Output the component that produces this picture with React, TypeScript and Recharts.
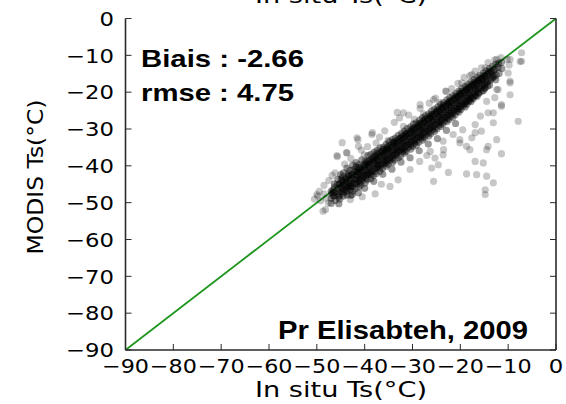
import React from 'react';
import { ScatterChart, Scatter, XAxis, YAxis, ZAxis, ReferenceLine } from 'recharts';

const tickValues = [-90, -80, -70, -60, -50, -40, -30, -20, -10, 0];
const tickLabels = ['−90', '−80', '−70', '−60', '−50', '−40', '−30', '−20', '−10', '0'];

const coreCold: [number, number][] = [
  [-47.0,-46.9],[-47.0,-48.8],[-47.0,-50.2],[-46.9,-47.5],
  [-46.3,-45.8],[-46.3,-47.2],[-46.2,-49.4],[-46.4,-48.1],[-46.3,-44.9],
  [-45.6,-43.7],[-45.6,-46.2],[-45.5,-48.5],[-45.7,-45.1],[-45.6,-47.6],[-45.4,-50.3],
  [-45.0,-42.4],[-45.1,-44.8],[-44.9,-47.1],[-45.0,-45.9],[-45.2,-49.0],[-44.9,-43.6],
  [-44.4,-41.9],[-44.5,-44.1],[-44.3,-46.5],[-44.4,-48.2],[-44.2,-45.3],[-44.6,-43.0],[-44.4,-47.4],
  [-43.7,-40.6],[-43.8,-43.5],[-43.6,-45.8],[-43.7,-47.9],[-43.9,-44.4],[-43.5,-42.2],[-43.7,-46.7],
  [-43.1,-41.2],[-43.2,-43.9],[-43.0,-46.3],[-43.1,-44.8],[-43.3,-42.7],[-42.9,-48.0],[-43.1,-45.5],
  [-42.5,-39.8],[-42.6,-42.4],[-42.4,-44.6],[-42.5,-46.9],[-42.7,-43.1],[-42.3,-41.0],[-42.5,-45.7],[-42.6,-47.8],
  [-41.8,-40.3],[-41.9,-42.6],[-41.7,-44.9],[-41.8,-43.6],[-42.0,-46.2],[-41.6,-41.5],[-41.8,-39.1],
  [-41.2,-39.7],[-41.3,-41.8],[-41.1,-43.9],[-41.2,-45.7],[-41.4,-42.4],[-41.0,-44.6],[-41.2,-40.5],[-41.3,-47.3],
  [-40.6,-38.4],[-40.7,-40.9],[-40.5,-43.3],[-40.6,-41.6],[-40.8,-45.2],[-40.4,-42.7],[-40.6,-44.1],
  [-39.9,-38.8],[-40.0,-40.2],[-39.8,-42.5],[-39.9,-44.6],[-40.1,-41.1],[-39.7,-43.4],[-39.9,-39.5],[-40.0,-46.1],
  [-39.3,-37.2],[-39.4,-39.7],[-39.2,-41.9],[-39.3,-40.4],[-39.5,-43.8],[-39.1,-42.3],[-39.3,-38.6],
  [-38.7,-36.9],[-38.8,-39.1],[-38.6,-41.6],[-38.7,-43.5],[-38.9,-40.0],[-38.5,-38.2],[-38.7,-42.4],
  [-38.0,-36.3],[-38.1,-38.6],[-37.9,-40.8],[-38.0,-39.3],[-38.2,-42.7],[-37.8,-41.5],[-38.0,-37.5],[-38.1,-44.2],
  [-37.4,-35.8],[-37.5,-37.9],[-37.3,-40.4],[-37.4,-38.6],[-37.6,-42.1],[-37.2,-39.7],[-37.4,-36.6],
  [-36.8,-35.1],[-36.9,-37.4],[-36.7,-39.8],[-36.8,-41.5],[-37.0,-38.3],[-36.6,-36.2],[-36.8,-40.6],
  [-36.1,-34.9],[-36.2,-36.8],[-36.0,-38.9],[-36.1,-37.4],[-36.3,-40.7],[-35.9,-39.5],[-36.1,-35.6],[-36.2,-42.3],
];

const coreMid: [number, number][] = [
  [-35.5,-34.2],[-35.6,-36.1],[-35.4,-38.4],[-35.5,-40.1],[-35.7,-37.0],[-35.3,-35.3],[-35.5,-39.2],
  [-34.9,-33.4],[-35.0,-35.7],[-34.8,-37.8],[-34.9,-36.4],[-35.1,-39.6],[-34.7,-38.5],[-34.9,-34.6],
  [-34.2,-32.9],[-34.3,-35.0],[-34.1,-37.2],[-34.2,-39.1],[-34.4,-35.8],[-34.0,-33.7],[-34.2,-38.0],[-34.3,-40.9],
  [-33.6,-32.5],[-33.7,-34.3],[-33.5,-36.6],[-33.6,-35.2],[-33.8,-38.4],[-33.4,-37.1],[-33.6,-33.4],
  [-33.0,-31.7],[-33.1,-33.9],[-32.9,-36.0],[-33.0,-37.8],[-33.2,-34.6],[-32.8,-32.8],[-33.0,-35.9],
  [-32.3,-31.2],[-32.4,-33.3],[-32.2,-35.4],[-32.3,-34.0],[-32.5,-37.3],[-32.1,-36.2],[-32.3,-32.4],[-32.4,-39.0],
  [-31.7,-30.6],[-31.8,-32.5],[-31.6,-34.8],[-31.7,-36.6],[-31.9,-33.4],[-31.5,-31.6],[-31.7,-35.7],
  [-31.1,-29.9],[-31.2,-32.1],[-31.0,-34.2],[-31.1,-33.0],[-31.3,-36.1],[-30.9,-35.0],[-31.1,-31.2],
  [-30.4,-29.4],[-30.5,-31.3],[-30.3,-33.6],[-30.4,-35.5],[-30.6,-32.2],[-30.2,-30.5],[-30.4,-34.4],[-30.5,-37.8],
  [-29.8,-28.7],[-29.9,-30.9],[-29.7,-33.0],[-29.8,-31.7],[-30.0,-34.8],[-29.6,-33.9],[-29.8,-29.8],
  [-29.2,-28.3],[-29.3,-30.2],[-29.1,-32.5],[-29.2,-34.4],[-29.4,-31.1],[-29.0,-29.4],[-29.2,-33.3],
  [-28.5,-27.6],[-28.6,-29.7],[-28.4,-31.8],[-28.5,-30.4],[-28.7,-33.6],[-28.3,-32.5],[-28.5,-28.5],[-28.6,-35.9],
  [-27.9,-27.0],[-28.0,-29.1],[-27.8,-31.2],[-27.9,-33.0],[-28.1,-29.8],[-27.7,-28.0],[-27.9,-32.1],
  [-27.3,-26.4],[-27.4,-28.4],[-27.2,-30.6],[-27.3,-29.3],[-27.5,-32.4],[-27.1,-31.5],[-27.3,-27.3],
  [-26.6,-25.9],[-26.7,-27.8],[-26.5,-30.0],[-26.6,-31.9],[-26.8,-28.6],[-26.4,-26.8],[-26.6,-30.9],[-26.7,-34.1],
  [-26.0,-25.1],[-26.1,-27.2],[-25.9,-29.4],[-26.0,-28.0],[-26.2,-31.2],[-25.8,-30.3],[-26.0,-26.1],
  [-25.4,-24.6],[-25.5,-26.6],[-25.3,-28.8],[-25.4,-30.7],[-25.6,-27.4],[-25.2,-25.6],[-25.4,-29.7],
  [-24.7,-24.0],[-24.8,-25.9],[-24.6,-28.1],[-24.7,-26.8],[-24.9,-30.0],[-24.5,-29.0],[-24.7,-24.9],[-24.8,-32.6],
];

const coreWarm: [number, number][] = [
  [-24.1,-23.3],[-24.2,-25.4],[-24.0,-27.5],[-24.1,-29.3],[-24.3,-26.1],[-23.9,-24.3],[-24.1,-28.4],
  [-23.5,-22.8],[-23.6,-24.7],[-23.4,-26.9],[-23.5,-25.5],[-23.7,-28.7],[-23.3,-27.8],[-23.5,-23.6],
  [-22.8,-22.1],[-22.9,-24.0],[-22.7,-26.2],[-22.8,-28.0],[-23.0,-24.8],[-22.6,-23.0],[-22.8,-27.1],[-22.9,-30.4],
  [-22.2,-21.5],[-22.3,-23.5],[-22.1,-25.6],[-22.2,-24.2],[-22.4,-27.4],[-22.0,-26.5],[-22.2,-22.4],
  [-21.6,-20.9],[-21.7,-22.8],[-21.5,-25.0],[-21.6,-26.8],[-21.8,-23.5],[-21.4,-21.8],[-21.6,-25.8],
  [-20.9,-20.3],[-21.0,-22.2],[-20.8,-24.3],[-20.9,-23.0],[-21.1,-26.1],[-20.7,-25.2],[-20.9,-21.1],[-21.0,-28.5],
  [-20.3,-19.7],[-20.4,-21.5],[-20.2,-23.6],[-20.3,-25.4],[-20.5,-22.1],[-20.1,-20.4],[-20.3,-24.5],
  [-19.7,-19.0],[-19.8,-20.9],[-19.6,-23.0],[-19.7,-21.6],[-19.9,-24.7],[-19.5,-23.8],[-19.7,-19.8],
  [-19.0,-18.4],[-19.1,-20.2],[-18.9,-22.3],[-19.0,-24.0],[-19.2,-20.9],[-18.8,-19.2],[-19.0,-23.1],
  [-18.4,-17.8],[-18.5,-19.6],[-18.3,-21.6],[-18.4,-20.3],[-18.6,-23.3],[-18.2,-22.4],[-18.4,-18.6],
  [-17.8,-17.2],[-17.9,-18.9],[-17.7,-21.0],[-17.8,-22.6],[-18.0,-19.6],[-17.6,-18.0],[-17.8,-21.7],
  [-17.1,-16.6],[-17.2,-18.3],[-17.0,-20.2],[-17.1,-19.0],[-17.3,-21.8],[-16.9,-20.9],[-17.1,-17.4],
  [-16.5,-16.0],[-16.6,-17.6],[-16.4,-19.5],[-16.5,-21.1],[-16.7,-18.3],[-16.3,-16.8],
  [-15.9,-15.4],[-16.0,-17.0],[-15.8,-18.9],[-15.9,-17.7],[-16.1,-20.3],[-15.7,-16.2],
  [-15.2,-14.9],[-15.3,-16.3],[-15.1,-18.1],[-15.2,-19.6],[-15.4,-17.0],[-15.0,-15.5],
  [-14.6,-14.2],[-14.7,-15.7],[-14.5,-17.5],[-14.6,-16.4],[-14.8,-18.8],
  [-13.9,-13.6],[-14.0,-15.0],[-13.8,-16.8],[-13.9,-18.1],[-14.1,-14.4],
  [-13.3,-13.0],[-13.4,-14.5],[-13.2,-16.1],[-13.3,-15.3],
  [-12.6,-12.4],[-12.7,-13.8],[-12.5,-15.4],[-12.6,-16.6],
  [-12.0,-12.2],[-12.1,-13.3],[-11.9,-14.9],
  [-11.4,-11.9],[-11.3,-13.6],
];

const denseCenter: [number, number][] = [
  [-46.6,-46.5],[-46.6,-48.2],[-46.6,-47.3],[-45.3,-45.0],[-45.3,-46.9],[-45.3,-48.1],
  [-44.7,-44.1],[-44.7,-46.2],[-44.7,-45.3],[-44.0,-43.6],[-44.0,-45.5],[-44.0,-47.0],
  [-43.4,-42.8],[-43.4,-44.9],[-43.4,-46.1],[-42.8,-42.4],[-42.8,-44.2],[-42.8,-45.6],
  [-42.1,-41.6],[-42.1,-43.7],[-42.1,-44.8],[-41.5,-41.0],[-41.5,-42.9],[-41.5,-44.3],
  [-40.9,-40.5],[-40.9,-42.3],[-40.9,-43.6],[-40.2,-39.8],[-40.2,-41.7],[-40.2,-43.0],
  [-39.6,-39.1],[-39.6,-41.2],[-39.6,-42.5],[-39.0,-38.6],[-39.0,-40.5],[-39.0,-41.8],
  [-38.3,-38.0],[-38.3,-39.9],[-38.3,-41.3],[-37.7,-37.3],[-37.7,-39.4],[-37.7,-40.6],
  [-37.1,-36.8],[-37.1,-38.7],[-37.1,-40.0],[-36.4,-36.2],[-36.4,-38.1],[-36.4,-39.4],
  [-35.8,-35.5],[-35.8,-37.6],[-35.8,-38.8],[-35.2,-35.0],[-35.2,-36.9],[-35.2,-38.3],
  [-34.5,-34.4],[-34.5,-36.4],[-34.5,-37.6],[-33.9,-33.7],[-33.9,-35.8],[-33.9,-37.0],
  [-33.3,-33.2],[-33.3,-35.1],[-33.3,-36.5],[-32.6,-32.5],[-32.6,-34.6],[-32.6,-35.8],
  [-32.0,-31.9],[-32.0,-34.0],[-32.0,-35.3],[-31.4,-31.3],[-31.4,-33.4],[-31.4,-34.6],
  [-30.7,-30.8],[-30.7,-32.7],[-30.7,-34.1],[-30.1,-30.1],[-30.1,-32.2],[-30.1,-33.4],
  [-29.5,-29.6],[-29.5,-31.5],[-29.5,-32.9],[-28.8,-28.9],[-28.8,-31.0],[-28.8,-32.2],
  [-28.2,-28.4],[-28.2,-30.3],[-28.2,-31.7],[-27.6,-27.7],[-27.6,-29.8],[-27.6,-31.0],
  [-26.9,-27.2],[-26.9,-29.1],[-26.9,-30.5],[-26.3,-26.5],[-26.3,-28.6],[-26.3,-29.8],
  [-25.7,-26.0],[-25.7,-27.9],[-25.7,-29.3],[-25.0,-25.3],[-25.0,-27.4],[-25.0,-28.6],
  [-24.4,-24.8],[-24.4,-26.7],[-24.4,-28.1],[-23.8,-24.1],[-23.8,-26.2],[-23.8,-27.4],
  [-23.1,-23.6],[-23.1,-25.5],[-23.1,-26.9],[-22.5,-22.9],[-22.5,-25.0],[-22.5,-26.2],
  [-21.9,-22.4],[-21.9,-24.3],[-21.9,-25.7],[-21.2,-21.7],[-21.2,-23.8],[-21.2,-25.0],
  [-20.6,-21.2],[-20.6,-23.1],[-20.6,-24.5],[-20.0,-20.5],[-20.0,-22.6],[-20.0,-23.8],
  [-19.3,-20.0],[-19.3,-21.9],[-19.3,-23.3],[-18.7,-19.3],[-18.7,-21.4],[-18.7,-22.6],
  [-18.1,-18.8],[-18.1,-20.7],[-18.1,-22.1],[-17.4,-18.1],[-17.4,-20.2],[-17.4,-21.4],
  [-16.8,-17.6],[-16.8,-19.5],[-16.8,-20.9],[-16.2,-16.9],[-16.2,-19.0],[-16.2,-20.2],
  [-15.5,-16.4],[-15.5,-18.3],[-15.5,-19.7],[-14.9,-15.7],[-14.9,-17.8],[-14.9,-19.0],
  [-14.3,-15.2],[-14.3,-17.1],[-14.3,-18.3],[-13.6,-14.6],[-13.6,-16.4],[-13.0,-14.0],[-13.0,-15.8],
];

const outerScatter: [number, number][] = [
  [-48.5,-45.3],[-47.5,-44.0],[-46.8,-42.6],[-45.7,-37.5],[-44.7,-33.7],[-44.2,-39.5],[-43.8,-36.4],
  [-42.9,-38.0],[-41.4,-32.9],[-40.7,-35.7],[-40.1,-37.0],[-39.4,-34.8],[-38.4,-31.0],[-37.6,-33.8],
  [-36.9,-32.2],[-35.8,-30.5],[-35.1,-33.1],[-33.2,-25.5],[-33.8,-28.2],[-32.7,-27.0],[-31.9,-29.3],
  [-30.8,-26.2],[-29.6,-27.4],[-28.4,-24.4],[-27.7,-25.9],[-26.5,-23.0],[-25.2,-21.6],[-24.3,-22.8],
  [-23.1,-19.7],[-21.8,-19.0],[-20.5,-17.6],[-19.2,-16.0],[-18.0,-15.5],[-16.9,-14.3],[-15.6,-13.4],
  [-14.2,-12.0],[-12.8,-11.2],[-11.5,-10.6],[-10.2,-11.1],[-9.8,-12.6],[-7.5,-11.7],
  [-45.8,-37.2],[-41.6,-32.4],[-41.3,-34.7],[-43.7,-36.5],[-38.5,-31.5],[-46.2,-41.9],
  [-48.2,-51.9],[-50.0,-47.8],[-50.5,-49.0],[-49.8,-48.2],[-49.2,-49.5],[-48.7,-52.3],[-48.5,-47.6],
  [-48.0,-48.8],[-47.6,-50.1],[-49.5,-46.9],[-43.0,-49.2],[-37.8,-47.6],[-30.5,-41.0],[-34.7,-45.6],
  [-33.0,-43.8],[-40.5,-48.4],[-36.5,-45.0],[-28.5,-38.8],[-27.0,-37.2],
  [-17.6,-15.2],[-19.7,-17.5],[-22.9,-19.8],[-25.6,-22.0],[-28.4,-23.4],[-31.9,-25.6],[-14.8,-13.4],
  [-12.4,-11.1],[-7.2,-9.3],[-7.2,-11.6],[-9.6,-11.1],
];

const warmOutliers: [number, number][] = [
  [-26.0,-40.6],[-25.6,-44.2],[-22.5,-41.8],[-24.6,-39.7],[-25.3,-37.9],[-23.5,-35.6],[-23.6,-37.0],
  [-18.7,-42.2],[-16.9,-38.8],[-16.6,-42.4],[-14.5,-42.8],[-15.2,-39.2],[-13.1,-44.6],[-14.8,-46.5],
  [-14.8,-47.8],[-11.4,-36.7],[-14.2,-34.7],[-12.4,-32.9],[-14.5,-35.6],[-17.6,-32.4],[-18.7,-34.7],
  [-20.1,-32.9],[-16.9,-31.0],[-23.6,-33.3],[-26.3,-36.1],[-7.9,-27.9],[-11.4,-23.4],[-12.4,-19.3],
  [-9.6,-17.0],[-10.0,-14.8],[-14.2,-25.6],[-13.1,-28.3],[-15.6,-30.6],[-18.0,-35.6],[-20.1,-33.8],
  [-16.9,-28.8],[-9.6,-17.5],[-9.6,-20.7],[-11.4,-23.8],[-13.1,-25.6],[-14.5,-22.5],[-12.1,-19.3],
  [-12.8,-21.5],[-19.5,-30.2],[-21.5,-31.5],[-15.8,-26.5],
];

const toRows = (pts: [number, number][]) => pts.map(([x, y]) => ({ x, y }));

const labelFor = (v: number) => tickLabels[tickValues.indexOf(v)] ?? String(v);

const TICK_FONT = '"DejaVu Sans", sans-serif';

const XTick = (props: any) => {
  const { x, y, payload } = props;
  const label = labelFor(payload.value);
  const w = label.length === 1 ? 14.5 : 47;
  return (
    <text x={x} y={y + 23} textAnchor="middle" fontFamily={TICK_FONT} fontSize={20} fill="#000"
      textLength={w} lengthAdjust="spacingAndGlyphs">{label}</text>
  );
};

const YTick = (props: any) => {
  const { x, y, payload } = props;
  const label = labelFor(payload.value);
  const w = label.length === 1 ? 14.5 : 48;
  return (
    <text x={x - 11.5} y={y + 7.3} textAnchor="end" fontFamily={TICK_FONT} fontSize={20} fill="#000"
      textLength={w} lengthAdjust="spacingAndGlyphs">{label}</text>
  );
};

const EmptyTick = () => <g />;
const NoShape = () => <g />;

const dot = (opacity: number) => (p: any) => (
  <circle cx={p.cx} cy={p.cy} r={3.6} fill="#000" fillOpacity={opacity} />
);

const AXIS_STROKE = '#2a2a2a';

export default function App() {
  return (
    <div style={{ position: 'absolute', left: 0, top: 0, width: 566, height: 404, background: '#fff' }}>
      <ScatterChart width={566} height={404} margin={{ top: 18.5, right: 9, bottom: 0, left: 0 }}>
        <XAxis type="number" dataKey="x" domain={[-90, 0]} ticks={tickValues} allowDataOverflow
          height={54} tickSize={-6} tickMargin={6} tick={XTick} interval={0}
          axisLine={{ stroke: AXIS_STROKE, strokeWidth: 1.6 }} tickLine={{ stroke: AXIS_STROKE, strokeWidth: 1 }} />
        <YAxis type="number" dataKey="y" domain={[-90, 0]} ticks={tickValues} allowDataOverflow
          width={125.5} tickSize={-6} tickMargin={6} tick={YTick} interval={0}
          axisLine={{ stroke: AXIS_STROKE, strokeWidth: 1.6 }} tickLine={{ stroke: AXIS_STROKE, strokeWidth: 1 }} />
        <XAxis xAxisId="top" orientation="top" type="number" dataKey="x" domain={[-90, 0]} ticks={tickValues} allowDataOverflow
          height={0} tickSize={-6} tickMargin={0} tick={EmptyTick} interval={0}
          axisLine={{ stroke: AXIS_STROKE, strokeWidth: 1.6 }} tickLine={{ stroke: AXIS_STROKE, strokeWidth: 1 }} />
        <YAxis yAxisId="right" orientation="right" type="number" dataKey="y" domain={[-90, 0]} ticks={tickValues} allowDataOverflow
          width={1} tickSize={-6} tickMargin={0} tick={EmptyTick} interval={0}
          axisLine={{ stroke: AXIS_STROKE, strokeWidth: 1.6 }} tickLine={{ stroke: AXIS_STROKE, strokeWidth: 1 }} />
        <ZAxis range={[40, 40]} />
        <Scatter xAxisId="top" yAxisId="right" data={toRows(outerScatter)} shape={NoShape} isAnimationActive={false} />
        <Scatter data={toRows(outerScatter)} shape={dot(0.22)} isAnimationActive={false} />
        <Scatter data={toRows(warmOutliers)} shape={dot(0.22)} isAnimationActive={false} />
        <Scatter data={toRows(coreCold)} shape={dot(0.4)} isAnimationActive={false} />
        <Scatter data={toRows(coreMid)} shape={dot(0.4)} isAnimationActive={false} />
        <Scatter data={toRows(coreWarm)} shape={dot(0.4)} isAnimationActive={false} />
        <Scatter data={toRows(denseCenter)} shape={dot(0.4)} isAnimationActive={false} />
        <ReferenceLine segment={[{ x: -90, y: -90 }, { x: 0, y: 0 }]} stroke="#1e961e" strokeWidth={1.8} ifOverflow="extendDomain" />
      </ScatterChart>
      <svg width={566} height={404} style={{ position: 'absolute', left: 0, top: 0, pointerEvents: 'none' }}>
        <text x={341} y={3} textAnchor="middle" fontFamily={TICK_FONT} fontSize={22} fill="#000"
          textLength={172} lengthAdjust="spacingAndGlyphs">In situ Ts(°C)</text>
        <text x={341} y={397} textAnchor="middle" fontFamily={TICK_FONT} fontSize={22} fill="#000"
          textLength={172} lengthAdjust="spacingAndGlyphs">In situ Ts(°C)</text>
        <text x={0} y={0} transform="translate(43,177) rotate(-90)" textAnchor="middle" fontFamily={TICK_FONT}
          fontSize={22} fill="#000" textLength={155} lengthAdjust="spacingAndGlyphs">MODIS Ts(°C)</text>
        <text x={141} y={67} fontFamily='"Liberation Sans", Arial, sans-serif' fontWeight="bold" fontSize={24}
          fill="#000" textLength={163} lengthAdjust="spacingAndGlyphs">Biais : -2.66</text>
        <text x={141} y={101} fontFamily='"Liberation Sans", Arial, sans-serif' fontWeight="bold" fontSize={24}
          fill="#000" textLength={153} lengthAdjust="spacingAndGlyphs">rmse : 4.75</text>
        <text x={278} y={339} fontFamily='"Liberation Sans", Arial, sans-serif' fontWeight="bold" fontSize={25}
          fill="#000" textLength={250} lengthAdjust="spacingAndGlyphs">Pr Elisabteh, 2009</text>
      </svg>
    </div>
  );
}
